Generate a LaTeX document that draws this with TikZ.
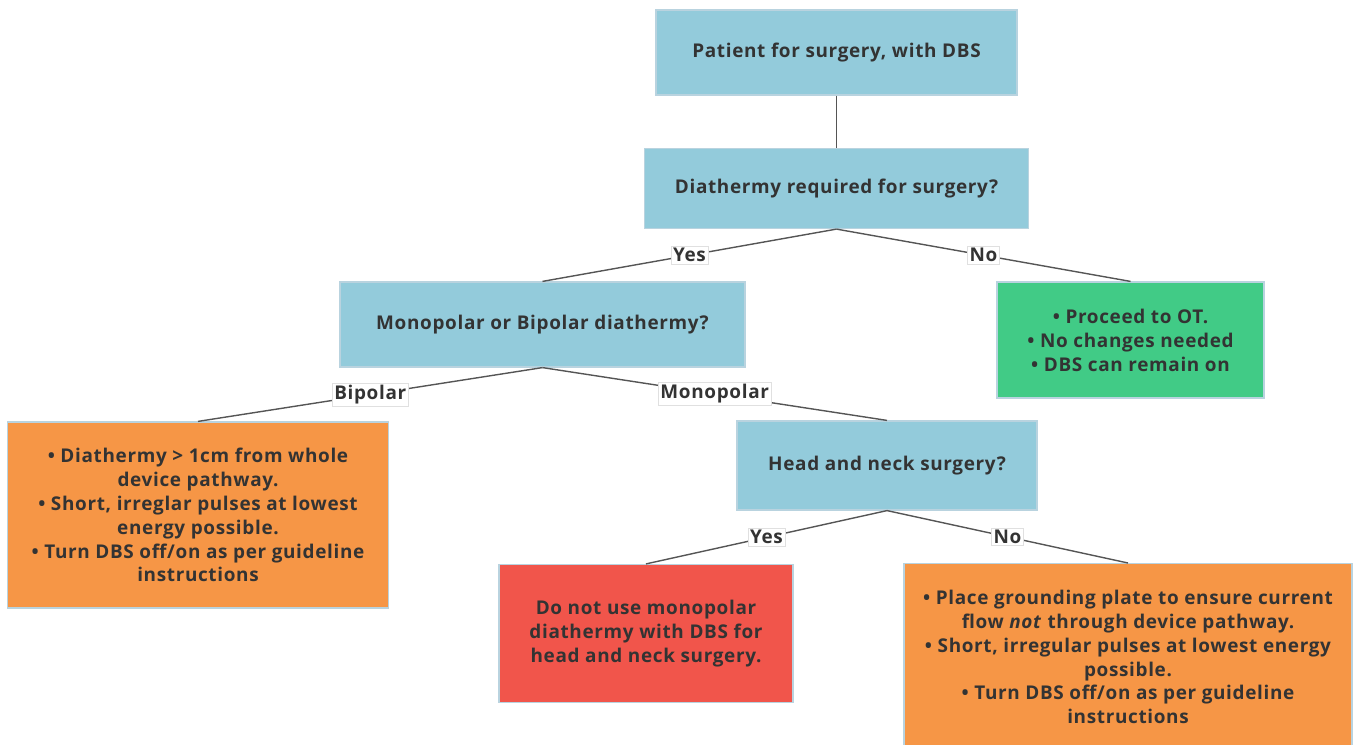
\documentclass[tikz,border=0pt]{standalone}
\usepackage{fontspec}
\setmainfont{Open Sans}[LetterSpace=3.5]
\definecolor{txt}{HTML}{333333}
\definecolor{bluebox}{HTML}{93CBDB}
\definecolor{greenbox}{HTML}{41CB86}
\definecolor{orangebox}{HTML}{F69646}
\definecolor{redbox}{HTML}{F1554B}
\definecolor{bordercol}{HTML}{B9D3DF}
\definecolor{edgecol}{HTML}{555555}
\begin{document}
\begin{tikzpicture}[x=1bp,y=-1bp,
  box/.style={draw=bordercol, line width=1.2bp, text=txt, align=center, inner sep=0pt,
    font=\bfseries\fontsize{19}{24}\selectfont},
  blue/.style={box, fill=bluebox},
  green/.style={box, fill=greenbox},
  orange/.style={box, fill=orangebox},
  red/.style={box, fill=redbox},
  edge/.style={draw=edgecol, line width=1.4bp},
  lbl/.style={fill=white, draw=black!12, line width=0.6bp, text=txt, inner sep=2bp,
    font=\bfseries\fontsize{19}{20}\selectfont}]
\useasboundingbox (0,0) rectangle (1355,744);
\clip (0,0) rectangle (1355,744);

\node[blue, minimum width=361bp, minimum height=85bp] (b1) at (836.5,52.5) {Patient for surgery, with DBS};
\node[blue, minimum width=384bp, minimum height=80bp] (b2) at (836.5,188.5) {Diathermy required for surgery?};
\node[blue, minimum width=405bp, minimum height=85bp] (b3) at (542.5,324.5) {Monopolar or Bipolar diathermy?};
\node[green, minimum width=267bp, minimum height=116bp] (b4) at (1130.5,340) {• Proceed to OT.\\• No changes needed\\• DBS can remain on};
\node[orange, minimum width=381bp, minimum height=186bp] (b5) at (198,515) {• Diathermy > 1cm from whole\\device pathway.\\• Short, irreglar pulses at lowest\\energy possible.\\• Turn DBS off/on as per guideline\\instructions};
\node[blue, minimum width=300bp, minimum height=89bp] (b6) at (887,465.5) {Head and neck surgery?};
\node[red, minimum width=294bp, minimum height=138bp] (b7) at (646,633.5) {Do not use monopolar\\diathermy with DBS for\\head and neck surgery.};
\node[orange, minimum width=448bp, minimum height=220bp, anchor=north] (b8) at (1128,563) {\rule{0pt}{0pt}};
\node[text=txt, align=center, font=\bfseries\fontsize{19}{24}\selectfont] (t8) at (1128,657) {• Place grounding plate to ensure current\\flow \textit{not} through device pathway.\\• Short, irregular pulses at lowest energy\\possible.\\• Turn DBS off/on as per guideline\\instructions};

\draw[edge] (b1.south) -- (b2.north);
\draw[edge] (b2.south) -- node[lbl]{Yes} (b3.north);
\draw[edge] (b2.south) -- node[lbl]{No} (b4.north);
\draw[edge] (b3.south) -- node[lbl]{Bipolar} (b5.north);
\draw[edge] (b3.south) -- node[lbl]{Monopolar} (b6.north);
\draw[edge] (b6.south) -- node[lbl]{Yes} (b7.north);
\draw[edge] (b6.south) -- node[lbl]{No} (b8.north);
\end{tikzpicture}
\end{document}
